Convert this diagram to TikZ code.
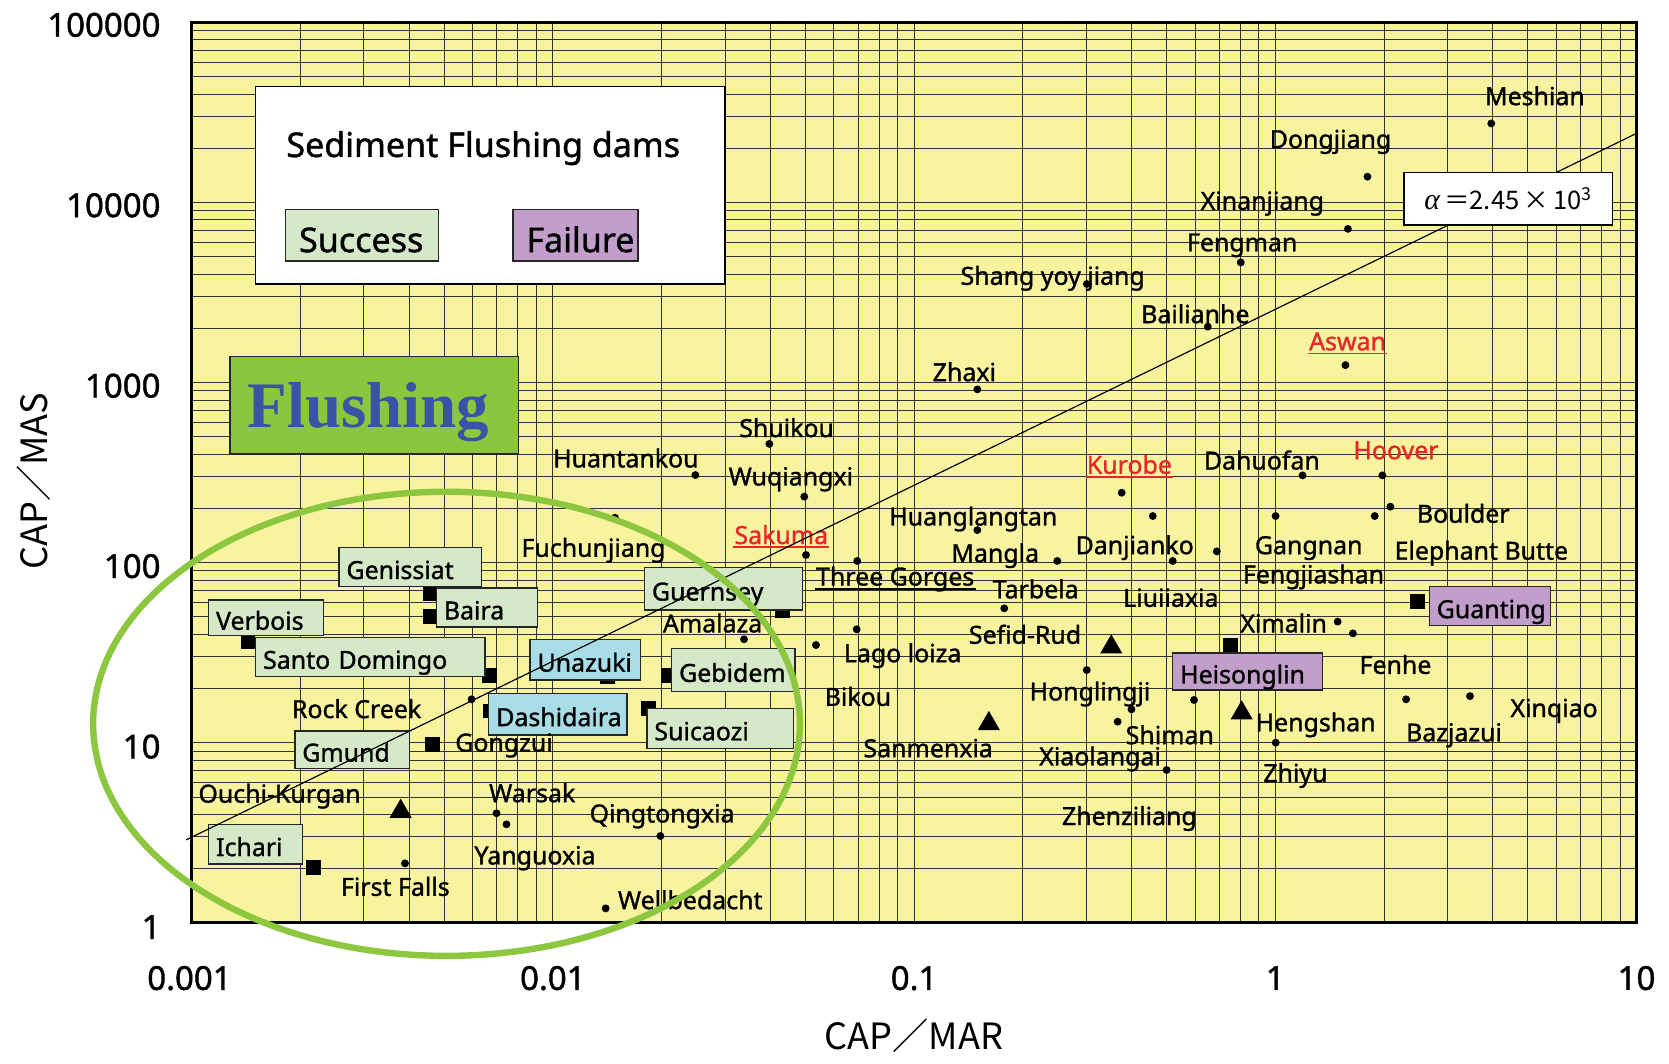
\documentclass[tikz,border=0pt]{standalone}
\usepackage{fontspec}
\setmainfont{Noto Sans}
\newfontfamily\damfont{Noto Sans}[FakeBold=1.2]
\newfontfamily\cjkfont{Noto Sans CJK JP}
\newfontfamily\serifbold{Liberation Serif}
\newfontfamily\greekfont{Liberation Serif}
\usetikzlibrary{shapes.geometric}

\definecolor{plotbg}{RGB}{248,243,158}
\definecolor{okfill}{RGB}{213,232,200}
\definecolor{failfill}{RGB}{194,158,202}
\definecolor{bluefill}{RGB}{168,221,232}
\definecolor{flushgreen}{RGB}{140,198,63}
\definecolor{flushblue}{RGB}{58,83,164}
\definecolor{alertred}{RGB}{232,38,42}
\definecolor{ringgreen}{RGB}{141,198,63}

\newcommand\lblfont{\damfont\fontsize{23.4}{27}\selectfont}
\newcommand\legfont{\damfont\fontsize{32}{36}\selectfont}

% box with its corners given as x1,y1,x2,y2; text left-aligned with a padding
\newcommand\dambox[8]{%
  \pgfmathsetmacro\dbW{#6-#4}%
  \pgfmathsetmacro\dbH{#7-#5}%
  \pgfmathsetmacro\dbX{(#4+#6)/2}%
  \pgfmathsetmacro\dbY{(#5+#7)/2}%
  \pgfmathsetmacro\dbT{#6-#4-2*#2}%
  \node[#1, inner xsep=#2pt, minimum width=\dbW pt, minimum height=\dbH pt,
        text width=\dbT pt] (#3) at (\dbX,\dbY) {#8};}

\tikzset{
  gridline/.style={draw=black!80, line width=0.85pt},
  dot/.style={circle, fill=black, inner sep=0pt, minimum size=7.4pt},
  sq/.style={rectangle, fill=black, inner sep=0pt, minimum size=14pt},
  tri/.style={regular polygon, regular polygon sides=3, fill=black,
              inner sep=0pt, minimum size=24pt},
  lbl/.style={font=\lblfont, inner sep=1pt, anchor=mid, yshift=-6.4pt},
  redlbl/.style={lbl, text=alertred},
  boxbase/.style={draw=black!85, line width=1.3pt, inner ysep=0pt, align=left,
                  font=\lblfont, text height=23.5pt, text depth=1.1pt},
  okbox/.style={boxbase, fill=okfill},
  failbox/.style={boxbase, fill=failfill},
  bluebox/.style={boxbase, fill=bluefill},
  legbox/.style={boxbase, font=\legfont, text height=33pt, text depth=1.2pt},
  ticklbl/.style={font=\damfont\fontsize{31}{35}\selectfont, inner sep=0pt, yshift=-8.3pt},
  axtitle/.style={font=\cjkfont\fontsize{34}{38}\selectfont, inner sep=0pt},
}

\begin{document}
\begin{tikzpicture}[x=1pt, y=-1pt]
\useasboundingbox[fill=white] (0,0) rectangle (1568,999);

% plot area and log-log grid
\fill[plotbg] (180,21) rectangle (1537.5,867);
\foreach \d in {0,...,3}{
  \foreach \k in {1,...,9}{
    \pgfmathsetmacro\gx{180+(\d+log10(\k))*339.375}
    \draw[gridline] (\gx,21) -- (\gx,867);
  }}
\foreach \d in {0,...,4}{
  \foreach \k in {1,...,9}{
    \pgfmathsetmacro\gy{867-(\d+log10(\k))*169.2}
    \draw[gridline] (180,\gy) -- (1537.5,\gy);
  }}

% circles: dams
\node[dot] (pMeshian) at (1401,116) {};
\node[dot] (pDongjiang) at (1284.7,166) {};
\node[dot] (pXinanjiang) at (1266.3,215) {};
\node[dot] (pFengman) at (1165.7,246.5) {};
\node[dot] (pShang) at (1021,266.8) {};
\node[dot] (pBailianhe) at (1134.7,306.9) {};
\node[dot] (pAswan) at (1264,343) {};
\node[dot] (pZhaxi) at (918.2,365.8) {};
\node[dot] (pShuikou) at (722.8,417) {};
\node[dot] (pHuantankou) at (653.3,446.3) {};
\node[dot] (pWuqiangxi) at (755.6,466.6) {};
\node[dot] (pKurobe) at (1053.8,462.9) {};
\node[dot] (pDahuofan) at (1223.7,446.6) {};
\node[dot] (pHoover) at (1298.7,446.6) {};
\node[dot] (pHuanglangtan) at (918.2,498) {};
\node[dot] (pA) at (1083,484.8) {};
\node[dot] (pB) at (1198.4,484.8) {};
\node[dot] (pC) at (1291.5,484.8) {};
\node[dot] (pBoulder) at (1306.2,476) {};
\node[dot] (pFuchunjiang) at (577.8,486.4) {};
\node[dot] (pSakuma) at (757.2,521.4) {};
\node[dot] (pThreeGorges) at (805.4,527) {};
\node[dot] (pMangla) at (993.3,527) {};
\node[dot] (pDanjianko) at (1101.7,527) {};
\node[dot] (pGangnan) at (1143.2,518) {};
\node[dot] (pTarbela) at (943.5,571.5) {};
\node[dot] (pAmalaza) at (699,600.6) {};
\node[dot] (pD) at (804.8,591.2) {};
\node[dot] (pLago) at (766.6,606) {};
\node[dot] (pXimalinA) at (1256.7,584) {};
\node[dot] (pXimalinB) at (1271,595) {};
\node[dot] (pHonglingji) at (1021,629.5) {};
\node[dot] (pE) at (1121.7,657.6) {};
\node[dot] (pShimanA) at (1063,666.4) {};
\node[dot] (pShimanB) at (1050,678) {};
\node[dot] (pF) at (1321,657) {};
\node[dot] (pXinqiao) at (1381,654) {};
\node[dot] (pZhiyu) at (1198.5,697.7) {};
\node[dot] (pXiaolangai) at (1096,723.4) {};
\node[dot] (pRockCreek) at (443,657) {};
\node[dot] (pWarsakA) at (466.5,764) {};
\node[dot] (pWarsakB) at (475.8,774.4) {};
\node[dot] (pQingtongxia) at (620.4,785.4) {};
\node[dot] (pYanguoxia) at (380.5,811.1) {};
\node[dot] (pWellbedacht) at (569,853.4) {};

% squares: flushing dams
\node[sq] (sGenissiat) at (404,558) {};
\node[sq] (sBaira) at (404,579) {};
\node[sq] (sVerbois) at (233,603) {};
\node[sq] (sSanto) at (459.5,635) {};
\node[sq] (sUnazuki) at (571,636) {};
\node[sq] (sDashidaira) at (460.5,668) {};
\node[sq] (sSuicaozi) at (609.5,665.5) {};
\node[sq] (sGebidem) at (627.7,635) {};
\node[sq] (sGuernsey) at (735.5,574) {};
\node[sq] (sGongzui) at (406.5,699.5) {};
\node[sq] (sIchari) at (294.6,815) {};
\node[sq] (sGuanting) at (1332,565) {};
\node[sq] (sHeisonglin) at (1156,606) {};

% triangles
\node[tri] (tOuchi) at (376.4,762.3) {};
\node[tri] (tSanmenxia) at (929,679.9) {};
\node[tri] (tSefid) at (1044,607.9) {};
\node[tri] (tHengshan) at (1166.5,669.9) {};

% legend
\node[draw=black, line width=1.5pt, fill=white, minimum width=441pt,
      minimum height=185.4pt, inner sep=0pt] (legend) at (460.5,174.1) {};
\node[font=\legfont, inner sep=0pt, anchor=mid, yshift=-8.8pt] (legtitle)
      at (454,136) {Sediment Flushing dams};
\dambox{legbox, fill=okfill}{12.6}{legSuccess}{268.4}{196.7}{412}{245.2}{Success}
\dambox{legbox, fill=failfill}{12.6}{legFailure}{482}{196.7}{599.3}{245.2}{Failure}

% Flushing tag
\node[draw=black!85, line width=1.3pt, fill=flushgreen, minimum width=271.2pt,
      minimum height=91.5pt, inner sep=0pt] (flushbox) at (351.6,380.75) {};
\node[font=\serifbold\bfseries\fontsize{61}{66}\selectfont, text=flushblue,
      inner sep=0pt, anchor=base] (flushtext) at (346,401.4) {Flushing};

% boxed dams
\dambox{okbox}{7}{bGenissiat}{318.5}{514.5}{452.6}{551}{Genissiat}
\dambox{okbox}{7}{bBaira}{410}{552.4}{505}{589}{Baira}
\dambox{okbox}{7}{bVerbois}{196}{563.7}{304}{597.2}{Verbois}
\dambox{okbox}{7}{bSanto}{240.2}{598.8}{455.7}{635.5}{Santo Domingo}
\dambox{okbox}{7}{bGuernsey}{605.5}{533}{754}{573}{Guernsey}
\dambox{okbox}{7}{bGebidem}{631}{609}{747}{649.8}{Gebidem}
\dambox{okbox}{7}{bSuicaozi}{607.8}{665.5}{745.5}{703}{Suicaozi}
\dambox{okbox}{7}{bGmund}{277}{686.8}{384.8}{721.8}{Gmund}
\dambox{okbox}{7}{bIchari}{196}{774.4}{284.2}{811.7}{Ichari}
\dambox{bluebox}{7}{bUnazuki}{498}{600.6}{602}{639}{Unazuki}
\dambox{bluebox}{7}{bDashidaira}{459.2}{651.4}{589}{690.5}{Dashidaira}
\dambox{failbox}{7}{bGuanting}{1342.8}{551.2}{1456.8}{587.8}{Guanting}
\dambox{failbox}{7}{bHeisonglin}{1101.7}{613.5}{1242.7}{648.3}{Heisonglin}

% dam names
\node[lbl] (lMeshian) at (1442,89.7) {Meshian};
\node[lbl] (lDongjiang) at (1250,130) {Dongjiang};
\node[lbl] (lXinanjiang) at (1186,188) {Xinanjiang};
\node[lbl] (lFengman) at (1167,227) {Fengman};
\node[lbl] (lShang) at (989,258.5) {Shang yoy jiang};
\node[lbl] (lBailianhe) at (1123,294.5) {Bailianhe};
\node[redlbl] (lAswan) at (1266,320) {Aswan};
\node[lbl] (lZhaxi) at (906,349) {Zhaxi};
\node[lbl] (lShuikou) at (739,401.5) {Shuikou};
\node[lbl] (lHuantankou) at (588,430) {Huantankou};
\node[lbl] (lWuqiangxi) at (743,447) {Wuqiangxi};
\node[redlbl] (lKurobe) at (1061,436) {Kurobe};
\node[lbl] (lDahuofan) at (1185.5,432) {Dahuofan};
\node[redlbl] (lHoover) at (1311.5,422.3) {Hoover};
\node[lbl] (lHuanglangtan) at (914.4,484.6) {Huanglangtan};
\node[lbl] (lBoulder) at (1374.7,482) {Boulder};
\node[redlbl] (lSakuma) at (734,502) {Sakuma};
\node[lbl] (lMangla) at (935,519) {Mangla};
\node[lbl] (lDanjianko) at (1066,511.5) {Danjianko};
\node[lbl] (lGangnan) at (1229.5,511.5) {Gangnan};
\node[lbl] (lElephant) at (1391.7,516.7) {Elephant Butte};
\node[lbl] (lThreeGorges) at (841,541) {Three Gorges};
\node[lbl] (lFengjiashan) at (1234,539) {Fengjiashan};
\node[lbl] (lTarbela) at (973,553) {Tarbela};
\node[lbl] (lLiujiaxia) at (1100,561) {Liuiiaxia};
\node[lbl] (lAmalaza) at (669.5,585) {Amalaza};
\node[lbl] (lLago) at (848,613) {Lago loiza};
\node[lbl] (lSefid) at (963,595.7) {Sefid-Rud};
\node[lbl] (lXimalin) at (1206,585) {Ximalin};
\node[lbl] (lFenhe) at (1311,624) {Fenhe};
\node[lbl] (lHonglingji) at (1024,649) {Honglingji};
\node[lbl] (lBikou) at (806,654) {Bikou};
\node[lbl] (lXinqiao) at (1460,664.6) {Xinqiao};
\node[lbl] (lShiman) at (1099,690) {Shiman};
\node[lbl] (lHengshan) at (1236,678) {Hengshan};
\node[lbl] (lBazjazui) at (1366,687.5) {Bazjazui};
\node[lbl] (lSanmenxia) at (872,702.3) {Sanmenxia};
\node[lbl] (lXiaolangai) at (1033.5,710) {Xiaolangai};
\node[lbl] (lZhiyu) at (1217,725.6) {Zhiyu};
\node[lbl] (lZhenziliang) at (1061,766) {Zhenziliang};
\node[lbl] (lFuchunjiang) at (557.6,514) {Fuchunjiang};
\node[lbl] (lRockCreek) at (335,665.5) {Rock Creek};
\node[lbl] (lGongzui) at (473.5,697) {Gongzui};
\node[lbl] (lOuchi) at (262.6,745) {Ouchi-Kurgan};
\node[lbl] (lWarsak) at (500,744.5) {Warsak};
\node[lbl] (lQingtongxia) at (622,763.6) {Qingtongxia};
\node[lbl] (lYanguoxia) at (502.6,803) {Yanguoxia};
\node[lbl] (lFirstFalls) at (371.4,832.5) {First Falls};
\node[lbl] (lWellbedacht) at (648.5,845) {Wellbedacht};

% underlines
\draw[alertred, line width=1.6pt] ([yshift=-3pt]lAswan.base west) -- ([yshift=-3pt]lAswan.base east);
\draw[alertred, line width=1.6pt] ([yshift=-3pt]lKurobe.base west) -- ([yshift=-3pt]lKurobe.base east);
\draw[alertred, line width=1.6pt] ([yshift=-3pt]lSakuma.base west) -- ([yshift=-3pt]lSakuma.base east);
\draw[black, line width=1.6pt] ([yshift=-3.5pt]lThreeGorges.base west) -- ([yshift=-3.5pt]lThreeGorges.base east);

% trend line
\coordinate (lineA) at (175,789);
\coordinate (lineB) at (1537.5,125.3);
\draw[line width=1.1pt] (lineA) -- (lineB);

% coefficient
\node[draw=black, line width=1.3pt, fill=white, minimum width=196pt,
      minimum height=49.4pt, inner sep=0pt, font=\cjkfont\fontsize{24}{28}\selectfont]
      (alpha) at (1417,186.7)
      {{\greekfont\itshape\fontsize{28}{30}\selectfont α}\,＝2.45\,×\,10\textsuperscript{3}};

% frame
\draw[line width=2.8pt] (180,21) rectangle (1537.5,867);

% ring round the flushing dams
\node[draw=ringgreen, line width=6pt, ellipse, minimum width=664pt,
      minimum height=436pt, inner sep=0pt] (ring) at (419.5,680) {};

% axes
\node[ticklbl, anchor=mid east] (y5) at (151,23.5) {100000};
\node[ticklbl, anchor=mid east] (y4) at (151,193) {10000};
\node[ticklbl, anchor=mid east] (y3) at (151,362.5) {1000};
\node[ticklbl, anchor=mid east] (y2) at (151,532) {100};
\node[ticklbl, anchor=mid east] (y1) at (151,701.5) {10};
\node[ticklbl, anchor=mid east] (y0) at (151,871) {1};
\node[ticklbl, anchor=mid] (x0) at (178,919) {0.001};
\node[ticklbl, anchor=mid] (x1) at (519.4,919) {0.01};
\node[ticklbl, anchor=mid] (x2) at (858.75,919) {0.1};
\node[ticklbl, anchor=mid] (x3) at (1198.1,919) {1};
\node[ticklbl, anchor=mid] (x4) at (1537.5,919) {10};
\node[axtitle] (xtitle) at (858.4,973) {CAP／MAR};
\node[axtitle, rotate=90] (ytitle) at (32,452) {CAP／MAS};
\end{tikzpicture}
\end{document}
